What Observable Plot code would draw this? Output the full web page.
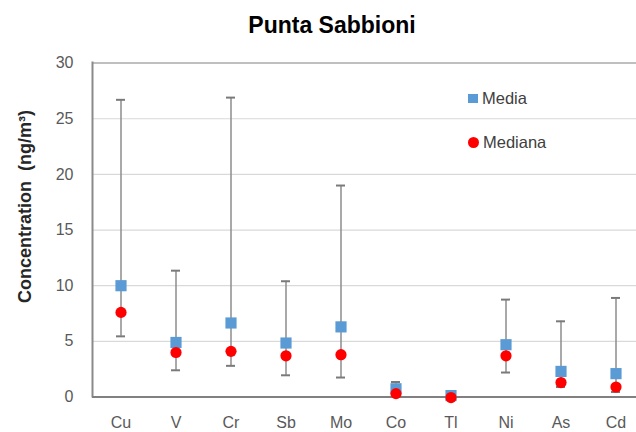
<!DOCTYPE html>
<html>
<head>
<meta charset="utf-8">
<script src="https://cdn.jsdelivr.net/npm/d3@7"></script>
<script src="https://cdn.jsdelivr.net/npm/@observablehq/plot@0.6"></script>
<style>
  html, body { margin: 0; padding: 0; background: #fff; }
  #wrap { position: relative; width: 636px; height: 432px; overflow: hidden; font-family: "Liberation Sans", Arial, sans-serif; }
  #title { height: 45px; line-height: 50px; text-align: center; font-weight: bold; font-size: 23px; color: #000; padding-left: 28px; box-sizing: border-box; }
  .leg { position: absolute; font-size: 16.5px; color: #404040; display: flex; align-items: center; height: 20px; }
  .sw { display: inline-block; margin-right: 4px; }
</style>
</head>
<body>
<div id="wrap">
  <div id="title">Punta Sabbioni</div>
  <div id="chart"></div>
  <div class="leg" style="left:468px; top:88px;"><span class="sw" style="width:10px;height:9px;background:#5b9bd5;"></span>Media</div>
  <div class="leg" style="left:468px; top:132px;"><span class="sw" style="width:11px;height:11px;border-radius:50%;background:#ff0000;"></span>Mediana</div>
</div>
<script>
// Elements sampled at Punta Sabbioni
const elements = ["Cu", "V", "Cr", "Sb", "Mo", "Co", "Tl", "Ni", "As", "Cd"];
// Mean concentration (ng/m³)
const media = [10.0, 4.9, 6.65, 4.85, 6.3, 0.74, 0.13, 4.7, 2.3, 2.1];
// Median concentration (ng/m³)
const mediana = [7.6, 4.0, 4.1, 3.7, 3.8, 0.3, -0.05, 3.7, 1.3, 0.9];
// Minimum and maximum (whiskers)
const minimo = [5.45, 2.4, 2.8, 1.95, 1.75, 0.1, 0.0, 2.2, 0.9, 0.45];
const massimo = [26.7, 11.35, 26.9, 10.4, 19.0, 1.35, 0.2, 8.75, 6.8, 8.9];
const yTicks = [0, 5, 10, 15, 20, 25, 30];

const rows = elements.map((el, i) => ({
  el, media: media[i], mediana: mediana[i], lo: minimo[i], hi: massimo[i]
}));

const chart = Plot.plot({
  width: 636,
  height: 387,
  marginTop: 17,
  marginBottom: 36,
  marginLeft: 92,
  marginRight: 0,
  style: { fontFamily: "Liberation Sans, Arial, sans-serif", fontSize: "16px", color: "#595959", background: "#fff" },
  x: { type: "band", domain: elements, range: [92.5, 642.5], padding: 0, label: null },
  y: { domain: [0, 30], range: [351.5, 17.6], label: null },
  marks: [
    Plot.gridY([5, 10, 15, 20, 25], { stroke: "#d9d9d9", strokeOpacity: 1, strokeWidth: 1.2 }),
    Plot.ruleY([30], { stroke: "#bfbfbf", strokeWidth: 2 }),
    Plot.frame({ anchor: "left", stroke: "#8a8a8a", strokeWidth: 2 }),
    Plot.ruleY([0], { stroke: "#808080", strokeWidth: 2 }),
    Plot.axisY(yTicks, { tickSize: 0, tickPadding: 19, fontSize: 16, label: null }),
    Plot.axisX({ tickSize: 0, tickPadding: 20, fontSize: 16, label: null }),
    Plot.ruleX(rows, { x: "el", y1: "lo", y2: "hi", stroke: "#8c8c8c", strokeWidth: 1.5 }),
    Plot.tickY(rows, { x: "el", y: "hi", stroke: "#7a7a7a", strokeWidth: 2, insetLeft: 23, insetRight: 23 }),
    Plot.tickY(rows, { x: "el", y: "lo", stroke: "#7a7a7a", strokeWidth: 2, insetLeft: 23, insetRight: 23 }),
    Plot.dot(rows, { x: "el", y: "media", symbol: "square", r: 6.3, fill: "#5b9bd5", stroke: "none" }),
    Plot.dot(rows, { x: "el", y: "mediana", symbol: "circle", r: 5.6, fill: "#ff0000", stroke: "none" }),
    Plot.text(["Concentration\u00a0 (ng/m³)"], {
      frameAnchor: "left", textAnchor: "middle", rotate: -90, dx: -67.5, dy: -23,
      fontWeight: "bold", fontSize: 18, fill: "#262626"
    })
  ]
});
document.getElementById("chart").appendChild(chart);
</script>
</body>
</html>
